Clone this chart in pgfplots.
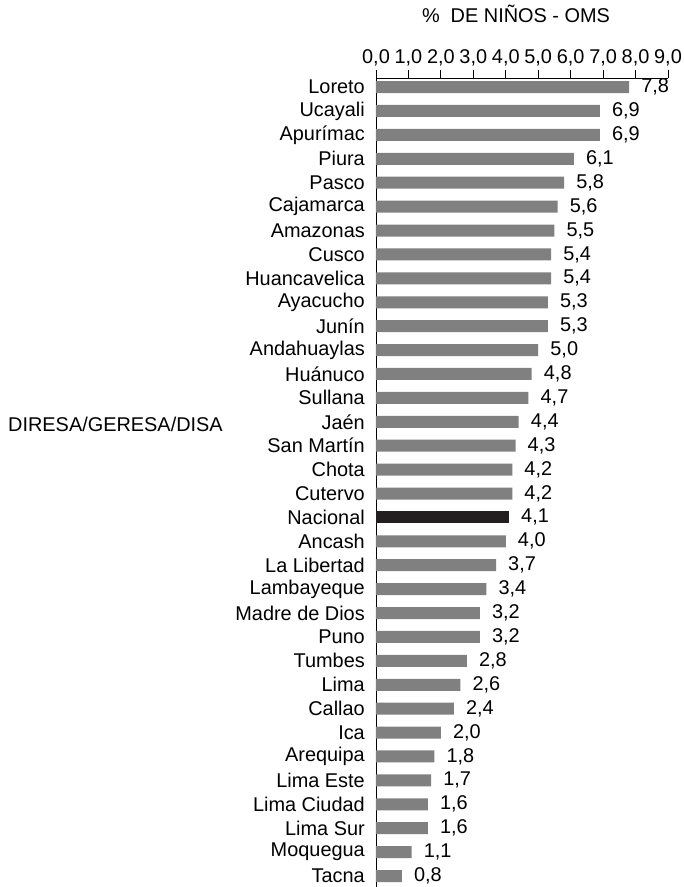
\documentclass[border=0pt]{standalone}
\usepackage{fontspec}
\setmainfont{Liberation Sans}
\usepackage{pgfplots}
\pgfplotsset{compat=1.18}
\definecolor{bargray}{RGB}{128,128,128}
\definecolor{nacblack}{RGB}{35,31,32}
\newcommand\cf{\fontsize{19.9}{23.9}\selectfont}
\begin{document}
\begin{tikzpicture}
\path[use as bounding box] (0,0) rectangle (684pt,887pt);
\begin{axis}[
  at={(376pt,0pt)}, anchor=south west,
  scale only axis, width=292pt, height=809pt,
  xbar, bar width=12pt,
  xmin=0, xmax=9, ymin=-0.38, ymax=33.46, y dir=reverse,
  axis x line*=top, axis y line*=left,
  axis line style={-, black, line width=0.8pt},
  xtick={0,1,...,9},
  tick align=outside, major tick length=8pt,
  xtick style={black, line width=0.8pt},
  ytick style={draw=none},
  ytick={0,1,...,33},
  yticklabels={Loreto,Ucayali,Apurímac,Piura,Pasco,Cajamarca,Amazonas,Cusco,Huancavelica,Ayacucho,Junín,Andahuaylas,Huánuco,Sullana,Jaén,San Martín,Chota,Cutervo,Nacional,Ancash,La Libertad,Lambayeque,Madre de Dios,Puno,Tumbes,Lima,Callao,Ica,Arequipa,Lima Este,Lima Ciudad,Lima Sur,Moquegua,Tacna},
  ticklabel style={font=\cf},
  y tick label style={inner sep=0pt, xshift=-3pt},
  /pgf/number format/.cd, fixed, fixed zerofill, precision=1, use comma, assume math mode=true,
  /pgfplots/.cd,
  xlabel={\% \ DE NIÑOS - OMS},
  xlabel style={font=\cf, xshift=-6pt, yshift=20pt},
  nodes near coords,
  point meta=x,
  nodes near coords style={font=\cf, anchor=west, inner sep=0pt, xshift=12pt,
    /pgf/number format/.cd, fixed, fixed zerofill, precision=1, use comma, assume math mode=true},
  clip=false,
]
\addplot[fill=bargray, draw=none, bar shift=0pt] coordinates {
  (7.8,0) (6.9,1) (6.9,2) (6.1,3) (5.8,4) (5.6,5) (5.5,6) (5.4,7) (5.4,8)
  (5.3,9) (5.3,10) (5.0,11) (4.8,12) (4.7,13) (4.4,14) (4.3,15) (4.2,16)
  (4.2,17) (4.0,19) (3.7,20) (3.4,21) (3.2,22) (3.2,23) (2.8,24) (2.6,25)
  (2.4,26) (2.0,27) (1.8,28) (1.7,29) (1.6,30) (1.6,31) (1.1,32) (0.8,33)
};
\addplot[fill=nacblack, draw=none, bar shift=0pt] coordinates {(4.1,18)};
\node[anchor=west, inner sep=0pt, font=\cf] at (axis cs:0,14.1) [xshift=-368pt] {DIRESA/GERESA/DISA};
\end{axis}
\end{tikzpicture}
\end{document}
